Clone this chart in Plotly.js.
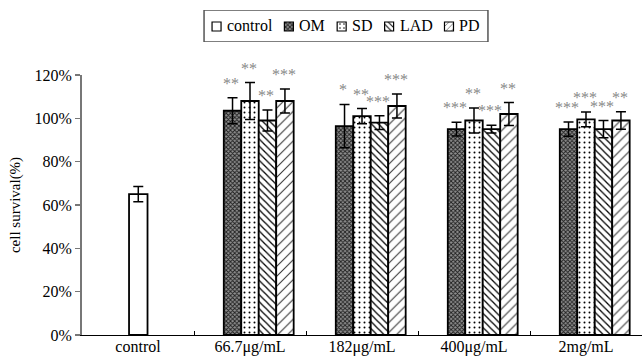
<!DOCTYPE html>
<html>
<head>
<meta charset="utf-8">
<script src="https://cdn.plot.ly/plotly-3.0.1.min.js"></script>
<style>html,body{margin:0;padding:0;background:#fff;}#chart{width:642px;height:356px;}</style>
</head>
<body>
<div id="chart"></div>
<script>
// ---- data ----
var categories = ['control', '66.7μg/mL', '182μg/mL', '400μg/mL', '2mg/mL'];
var doses = ['66.7μg/mL', '182μg/mL', '400μg/mL', '2mg/mL'];
var controlVal = [65];
var controlErr = [3.5];
var omVals = [103.5, 96.4, 95, 95];
var omErr = [6, 10, 3.2, 3.3];
var sdVals = [108, 101, 99, 99.5];
var sdErr = [8.5, 3.5, 5.8, 3.4];
var ladVals = [99, 98, 95, 95];
var ladErr = [4.8, 3.2, 1.8, 4];
var pdVals = [108, 105.7, 102, 99];
var pdErr = [5.5, 5.5, 5.3, 4];
var omSig = ['**', '*', '***', '***'];
var sdSig = ['**', '**', '**', '***'];
var ladSig = ['**', '***', '***', '***'];
var pdSig = ['***', '***', '**', '**'];
var yTicks = [0, 20, 40, 60, 80, 100, 120];

// ---- styling / layout constants ----
var FONT = "'Liberation Serif', 'Times New Roman', serif";
var W = 642, H = 356, ML = 82, MB = 21;
var PLOT_TOP = 75;          // px where 120% sits
var BW = 0.156;             // bar width in category units
var errStyle = {type: 'data', visible: true, color: '#000', thickness: 1.5, width: 5};
function err(a) { return Object.assign({array: a}, errStyle); }
var lineStyle = {color: '#000', width: 1.8};

var series = [
  {name: 'OM', vals: omVals, err: omErr, sig: omSig,
   pattern: {shape: 'x', size: 3, solidity: 0.5, fgcolor: '#1e1e1e', bgcolor: '#8f8f8f'}},
  {name: 'SD', vals: sdVals, err: sdErr, sig: sdSig,
   pattern: {shape: '.', size: 5, solidity: 0.12, fgcolor: '#000', bgcolor: '#fff'}},
  {name: 'LAD', vals: ladVals, err: ladErr, sig: ladSig,
   pattern: {shape: '\\', size: 5, solidity: 0.25, fgcolor: '#000', bgcolor: '#fff'}},
  {name: 'PD', vals: pdVals, err: pdErr, sig: pdSig,
   pattern: {shape: '/', size: 7, solidity: 0.15, fgcolor: '#333', bgcolor: '#fff'}}
];
series.forEach(function (s, k) { s.off = (k - 1.5) * BW; });

var traces = [{
  type: 'bar', name: 'control', x: ['control'], y: controlVal,
  error_y: err(controlErr), width: 0.165, offset: -0.08, showlegend: false,
  marker: {color: '#fff', line: lineStyle}
}];
var annotations = [];
series.forEach(function (s) {
  traces.push({
    type: 'bar', name: s.name, x: doses, y: s.vals, error_y: err(s.err),
    width: BW, offset: s.off, showlegend: false,
    marker: {color: '#fff', pattern: s.pattern, line: lineStyle}
  });
  doses.forEach(function (d, i) {
    annotations.push({
      x: categories.indexOf(d) + s.off + BW / 2 - 0.01, y: s.vals[i] + s.err[i],
      xref: 'x', yref: 'y', text: s.sig[i], showarrow: false,
      yanchor: 'bottom', yshift: 4,
      font: {family: FONT, size: 16, color: '#888888'}
    });
  });
});

// ---- custom legend (compact, like the reference) ----
var plotH = H - MB;
var LEG_TOP = 10, LEG_BOT = 42, LEG_CX = 346, LEG_FS = 16;
var ctx = document.createElement('canvas').getContext('2d');
ctx.font = LEG_FS + 'px ' + FONT;
var legItems = [{name: 'control', pattern: null}].concat(series.map(function (s) {
  return {name: s.name, pattern: s.pattern};
}));
var SW = 9, SGAP = 6, IGAP = 12, PAD = 8;
var widths = legItems.map(function (it) { return ctx.measureText(it.name).width; });
var total = PAD * 2 + widths.reduce(function (a, b) { return a + b; }, 0) +
  legItems.length * (SW + SGAP) + (legItems.length - 1) * IGAP;
var legLeft = LEG_CX - total / 2;
var cur = legLeft + PAD;
var legH = LEG_BOT - LEG_TOP;
var swY = legH / 2 - 0.5;
legItems.forEach(function (it, i) {
  var m = {color: '#fff', line: {color: '#000', width: 1.2}};
  if (it.pattern) m.pattern = Object.assign({}, it.pattern, {size: Math.min(it.pattern.size, 4)});
  traces.push({
    type: 'bar', x: [cur + SW / 2], y: [SW], base: [swY - SW / 2], width: [SW],
    xaxis: 'x2', yaxis: 'y2', showlegend: false, hoverinfo: 'skip', marker: m
  });
  annotations.push({
    x: cur + SW + SGAP - 2, y: legH / 2 + 0.5, xref: 'x2', yref: 'y2', text: it.name,
    showarrow: false, xanchor: 'left', yanchor: 'middle',
    font: {family: FONT, size: LEG_FS, color: '#000'}
  });
  cur += SW + SGAP + widths[i] + IGAP;
});

var layout = {
  width: W, height: H,
  margin: {l: ML, r: 0, t: 0, b: MB},
  paper_bgcolor: '#fff', plot_bgcolor: 'rgba(0,0,0,0)',
  barmode: 'overlay',
  showlegend: false,
  font: {family: FONT, size: 16, color: '#000'},
  xaxis: {
    type: 'category', categoryorder: 'array', categoryarray: categories,
    range: [-0.5, 4.5], showline: true, linecolor: '#000', linewidth: 1,
    ticks: 'inside', tickson: 'boundaries', ticklen: 4, tickcolor: '#000',
    showgrid: false, zeroline: false, tickfont: {family: FONT, size: 16},
    ticklabelstandoff: -3, anchor: 'y'
  },
  yaxis: {
    domain: [0, (plotH - PLOT_TOP) / plotH],
    range: [0, 120], tickvals: yTicks, ticktext: yTicks.map(function (v) { return v + '%'; }),
    showline: true, linecolor: '#777', linewidth: 2, ticks: 'outside', ticklen: 5,
    tickcolor: '#777', tickwidth: 1.5, showgrid: false, zeroline: false,
    tickfont: {family: FONT, size: 16},
    title: {text: 'cell survival(%)', font: {family: FONT, size: 15}, standoff: 10}
  },
  xaxis2: {domain: [0, 1], range: [ML, W], visible: false, anchor: 'y2', fixedrange: true},
  yaxis2: {
    domain: [(plotH - LEG_BOT) / plotH, (plotH - LEG_TOP) / plotH],
    range: [0, legH], visible: false, anchor: 'x2', fixedrange: true
  },
  shapes: [{
    type: 'rect', xref: 'x2', yref: 'y2', x0: legLeft, x1: legLeft + total, y0: 0, y1: legH,
    line: {color: '#555', width: 1.5}, fillcolor: 'rgba(0,0,0,0)'
  }],
  annotations: annotations
};

Plotly.newPlot('chart', traces, layout, {displayModeBar: false, staticPlot: true});
</script>
</body>
</html>
